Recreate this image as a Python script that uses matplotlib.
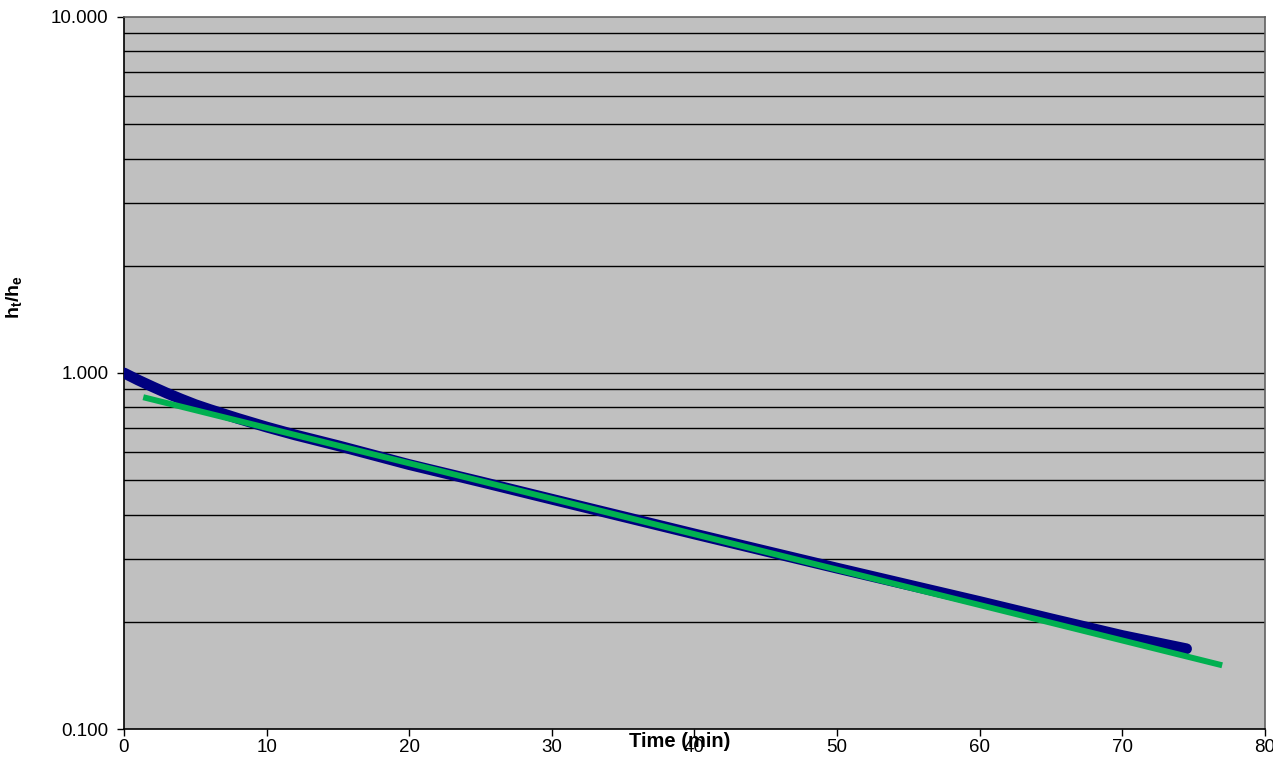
import numpy as np
import matplotlib
matplotlib.use("Agg")
import matplotlib.pyplot as plt
from matplotlib.ticker import FixedLocator, FuncFormatter, NullLocator

plt.rcParams['font.family'] = ['Liberation Sans', 'DejaVu Sans']
plt.rcParams['mathtext.fontset'] = 'custom'
plt.rcParams['mathtext.rm'] = 'Liberation Sans'
plt.rcParams['mathtext.bf'] = 'Liberation Sans:bold'

# measured ratio h_t/h_e over time
time_min = [0, 1, 2, 3, 4, 5, 6, 8, 10, 12, 15, 20, 25, 30, 35, 40,
            45, 50, 55, 60, 65, 70, 74.5]
ratio = [1.000, 0.955, 0.915, 0.878, 0.845, 0.815, 0.790, 0.745, 0.705,
         0.670, 0.625, 0.553, 0.495, 0.442, 0.395, 0.353, 0.316, 0.283,
         0.254, 0.228, 0.204, 0.183, 0.168]

# exponential fit line (end points)
fit_t = [1.35, 77.0]
fit_y = [0.855, 0.151]

fig = plt.figure(figsize=(12.73, 7.62), dpi=100)
ax = fig.add_axes([0.0974, 0.0433, 0.8963, 0.9344])
ax.set_facecolor('#C0C0C0')

ax.set_yscale('log')
ax.set_ylim(0.1, 10)
ax.set_xlim(0, 80)

# horizontal grid at every decade step
grid_vals = [v * d for d in (0.1, 1) for v in range(1, 10)] + [10]
for g in grid_vals[1:-1]:
    ax.axhline(g, color='black', linewidth=1.0, zorder=1)

ax.plot(time_min, ratio, color='#000080', linewidth=7.8,
        solid_capstyle='round', zorder=3)
t_fit = np.linspace(fit_t[0], fit_t[1], 50)
k = np.log(fit_y[1] / fit_y[0]) / (fit_t[1] - fit_t[0])
ax.plot(t_fit, fit_y[0] * np.exp(k * (t_fit - fit_t[0])), color='#00B050',
        linewidth=4.3, solid_capstyle='butt', zorder=4)

ax.yaxis.set_major_locator(FixedLocator([0.1, 1, 10]))
ax.yaxis.set_minor_locator(NullLocator())
ax.yaxis.set_major_formatter(FuncFormatter(lambda v, p: f"{v:.3f}"))
ax.set_xticks(range(0, 81, 10))
ax.tick_params(axis='both', direction='out', length=5, width=1,
               labelsize=13.5, colors='black')
ax.tick_params(axis='y', pad=6)
ax.tick_params(axis='x', pad=2)

for s in ('left', 'bottom'):
    ax.spines[s].set_color('black')
    ax.spines[s].set_linewidth(1.2)
for s in ('top', 'right'):
    ax.spines[s].set_color('#606060')
    ax.spines[s].set_linewidth(1.2)

ax.set_xlabel('Time (min)', fontsize=14.5, fontweight='bold')
ax.xaxis.set_label_coords(0.487, -0.004)
fig.text(15 / 1273, 1 - 297 / 762, r'h$_\mathbf{t}$/h$_\mathbf{e}$',
         rotation=90, ha='center', va='center', fontsize=14, fontweight='bold')

fig.savefig('out.png', dpi=100)
